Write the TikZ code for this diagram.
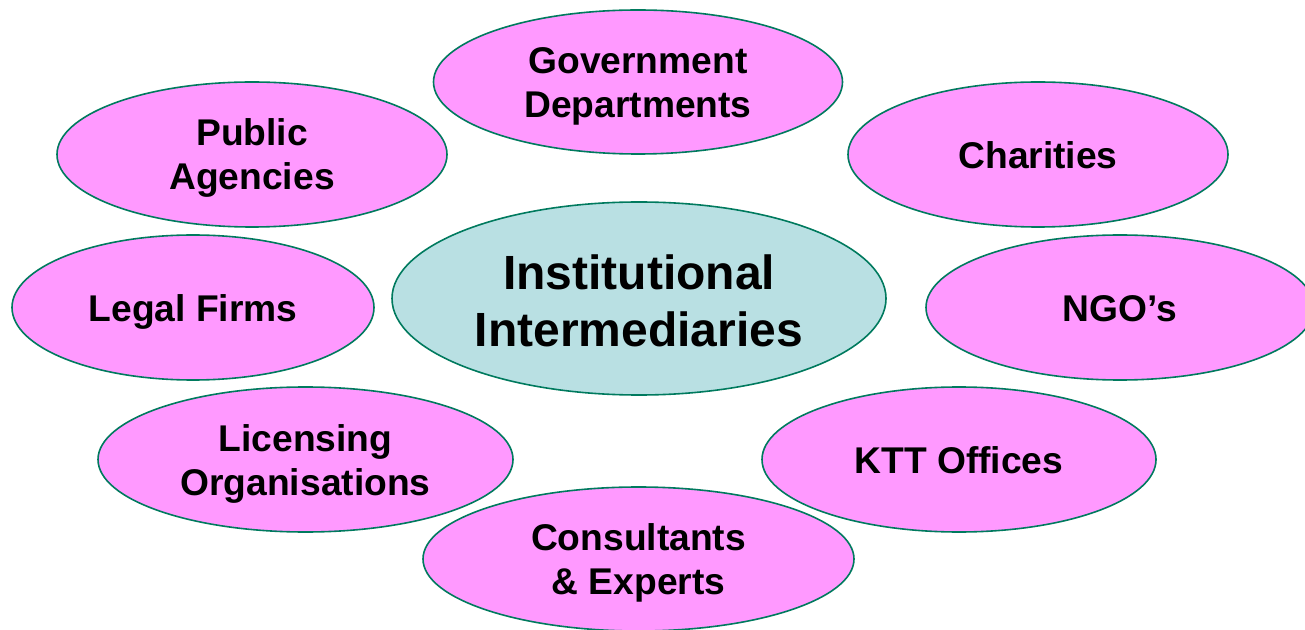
\documentclass[tikz,border=0pt]{standalone}
\usepackage{fontspec}
\setmainfont{Liberation Sans}
\usetikzlibrary{shapes.geometric}

\definecolor{bubblepink}{RGB}{255,153,255}
\definecolor{bubbleline}{RGB}{0,122,94}
\definecolor{hubcyan}{RGB}{185,224,227}

\begin{document}
\begin{tikzpicture}[x=0.5pt, y=-0.5pt,
	bubble/.style={ellipse, draw=bubbleline, line width=0.8pt, fill=bubblepink,
		inner sep=0pt, align=center, text height=17.9pt, text depth=3.9pt,
		font=\fontsize{18.6}{22}\selectfont\bfseries},
	twolines/.style={text height=39.4pt},
	hub/.style={bubble, fill=hubcyan, text height=53.3pt, text depth=5.1pt,
		font=\fontsize{24}{28.5}\selectfont\bfseries}]
	\useasboundingbox (0,0) rectangle (1305,630);

	% outer ring
	\node[bubble, twolines, minimum width=204.5pt, minimum height=72pt] (gov) at (638,82) {Government\\Departments};
	\node[bubble, twolines, minimum width=195pt, minimum height=72.5pt] (pub) at (252,154.5) {Public\\Agencies};
	\node[bubble, minimum width=190pt, minimum height=72.5pt] (char) at (1038,154.5) {Charities};
	\node[bubble, minimum width=181pt, minimum height=72.5pt] (legal) at (193,307.5) {Legal Firms};
	\node[bubble, minimum width=194pt, minimum height=72.5pt] (ngo) at (1120,307.5) {NGO’s};
	\node[bubble, twolines, minimum width=207.5pt, minimum height=72.5pt] (lic) at (305.5,459.5) {Licensing\\Organisations};
	\node[bubble, minimum width=197pt, minimum height=72.5pt] (ktt) at (959,459.5) {KTT Offices};
	\node[bubble, twolines, minimum width=215.5pt, minimum height=72pt] (cons) at (638.5,559) {Consultants\\\& Experts};

	% centre
	\node[hub, minimum width=247pt, minimum height=96.5pt] (inst) at (639,298.5) {Institutional\\Intermediaries};
\end{tikzpicture}
\end{document}
